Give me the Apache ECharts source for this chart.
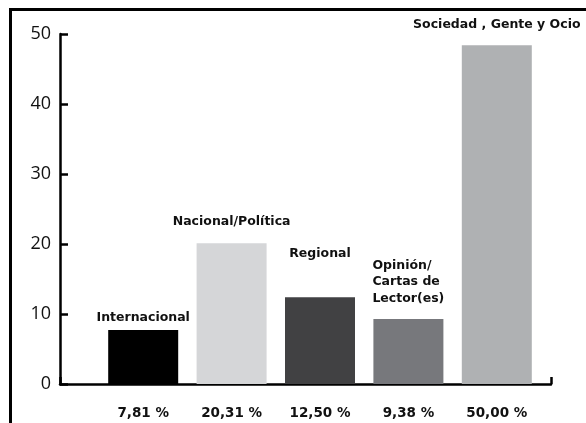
<!DOCTYPE html>
<html>
<head>
<meta charset="utf-8">
<script src="https://cdn.jsdelivr.net/npm/echarts@6/dist/echarts.min.js"></script>
<style>
  html, body { margin: 0; padding: 0; background: #fff; }
  #wrap { position: relative; width: 586px; height: 423px; }
  #chart { position: absolute; left: 0; top: 0; width: 586px; height: 423px; }
  #frame { position: absolute; left: 9px; top: 8px; right: -5px; bottom: -5px;
           border-left: 3px solid #000; border-top: 3px solid #000; pointer-events: none; }
</style>
</head>
<body>
<div id="wrap">
  <div id="chart"></div>
  <div id="frame"></div>
</div>
<script>
// Data
const categories = ['Internacional', 'Nacional/Política', 'Regional', 'Opinión/\nCartas de\nLector(es)', 'Sociedad , Gente y Ocio'];
const values = [7.7, 20.1, 12.4, 9.3, 48.4];
const percentLabels = ['7,81 %', '20,31 %', '12,50 %', '9,38 %', '50,00 %'];
const yTicks = [0, 10, 20, 30, 40, 50];

// Styles
const barColors = ['#000000', '#d5d6d8', '#414143', '#77787c', '#afb1b3'];
const labelDistances = [6, 15, 37, 12, 14];
const boldFont = 'DejaVu Sans';

const chart = echarts.init(document.getElementById('chart'));

const seriesData = values.map((v, i) => {
  const item = {
    value: v,
    itemStyle: { color: barColors[i] },
    label: {
      show: true,
      formatter: categories[i],
      position: 'top',
      distance: labelDistances[i]
    }
  };
  if (i === 3) {
    item.label.position = [-1, -labelDistances[i]];
    item.label.align = 'left';
    item.label.verticalAlign = 'bottom';
    item.label.lineHeight = 16.5;
  }
  return item;
});

chart.setOption({
  animation: false,
  grid: [
    { left: 60, right: 35, top: 34, bottom: 39 },
    { left: 99, right: 45, top: 34, bottom: 39 }
  ],
  xAxis: [
    {
      gridIndex: 0, type: 'category', data: ['', ''], boundaryGap: false,
      axisLine: { show: true, lineStyle: { color: '#000', width: 2.5 } },
      axisTick: { show: true, inside: true, length: 7, interval: 0, lineStyle: { color: '#000', width: 2.5 } },
      axisLabel: { show: false },
      splitLine: { show: false }
    },
    {
      gridIndex: 1, type: 'category', data: percentLabels,
      axisLine: { show: false },
      axisTick: { show: false },
      axisLabel: {
        color: '#111', fontFamily: boldFont, fontWeight: 'bold', fontSize: 13.5, margin: 22
      }
    }
  ],
  yAxis: [
    {
      gridIndex: 0, type: 'value', min: yTicks[0], max: yTicks[yTicks.length - 1], interval: 10,
      axisLine: { show: true, lineStyle: { color: '#000', width: 2.5 } },
      axisTick: { show: true, inside: true, length: 8, lineStyle: { color: '#000', width: 2.5 } },
      axisLabel: { color: '#111', fontFamily: 'Open Sans', fontSize: 18, margin: 9 },
      splitLine: { show: false }
    },
    {
      gridIndex: 1, type: 'value', min: yTicks[0], max: yTicks[yTicks.length - 1],
      show: false
    }
  ],
  series: [
    {
      type: 'bar',
      xAxisIndex: 1,
      yAxisIndex: 1,
      barWidth: 70,
      data: seriesData,
      label: {
        color: '#111', fontFamily: boldFont, fontWeight: 'bold', fontSize: 12.5
      }
    }
  ]
});
</script>
</body>
</html>
